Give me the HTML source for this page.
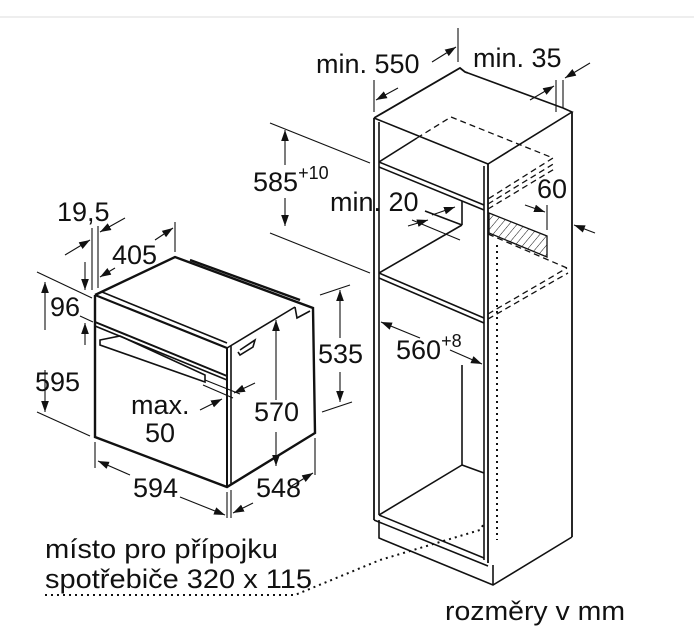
<!DOCTYPE html>
<html><head><meta charset="utf-8"><style>
html,body{margin:0;padding:0;background:#fff;width:694px;height:639px;overflow:hidden}
svg{display:block}
text{font-family:"Liberation Sans",sans-serif;fill:#111;font-size:27px}
</style></head><body>
<svg width="694" height="639" viewBox="0 0 694 639" xmlns="http://www.w3.org/2000/svg">
<defs>
<marker id="a" viewBox="0 0 10 10" refX="10" refY="5" markerWidth="11" markerHeight="11" orient="auto-start-reverse" markerUnits="userSpaceOnUse"><path d="M0,1.5 L10,5 L0,8.5 z" fill="#111"/></marker>
<pattern id="h" width="6" height="6" patternUnits="userSpaceOnUse" patternTransform="rotate(40)"><line x1="0" y1="0" x2="0" y2="6" stroke="#111" stroke-width="1"/></pattern>
</defs>
<line x1="0" y1="17" x2="694" y2="17" stroke="#ddd" stroke-width="1"/>
<g stroke="#111" fill="none" stroke-width="1.6">
<polyline points="374,118 460,68 465,72 468,73" stroke-width="1.8"/>
<polyline points="374,118 488,164 572,112 563,108"/>
<line x1="468" y1="73" x2="563" y2="108"/>
<line x1="374" y1="118" x2="374" y2="520" stroke-width="1.8"/>
<line x1="379" y1="122" x2="379" y2="515"/>
<line x1="488" y1="164" x2="488" y2="563" stroke-width="1.8"/>
<line x1="484" y1="166" x2="484" y2="560"/>
<line x1="572" y1="112" x2="572" y2="537" stroke-width="1.8"/>
<line x1="379" y1="162" x2="484" y2="205"/>
<line x1="379" y1="167" x2="484" y2="210"/>
<line x1="379" y1="162" x2="417" y2="138"/>
<line x1="379" y1="273" x2="484" y2="318"/>
<line x1="379" y1="278" x2="484" y2="323"/>
<line x1="379" y1="273" x2="462" y2="225"/>
<line x1="462" y1="201" x2="462" y2="225"/>
<line x1="425" y1="211" x2="462" y2="225" />
<line x1="462" y1="365" x2="462" y2="465"/>
<line x1="379" y1="515" x2="462" y2="465"/>
<line x1="462" y1="465" x2="484" y2="473"/>
<line x1="379" y1="515" x2="484" y2="558"/>
<polyline points="379,520 379,538 493,585 572,537"/>
<line x1="493" y1="565" x2="493" y2="585"/>
<line x1="374" y1="520" x2="488" y2="566"/>
<g stroke-dasharray="6,4" stroke-width="1.3">
<polyline points="417,138 451,117 553,158 488,199"/>
<polyline points="488,204 555,163"/>
<line x1="488" y1="209" x2="556" y2="168"/>
<line x1="488" y1="234" x2="567" y2="268"/>
<polyline points="488,314 567,268"/>
<line x1="488" y1="319" x2="568" y2="273"/>
</g>
<line x1="497" y1="245" x2="497" y2="540" stroke-dasharray="2,4" stroke-width="2"/>
<polyline points="45,595 295,595 380,560 480,530 485,522" stroke-dasharray="2,4" stroke-width="2"/>
<polygon points="489,213 547,236 547,257 489,233" fill="url(#h)" stroke-width="1.3"/>
<polyline points="95,295 175,257 313,308 315,433 227,487 95,437 95,295" stroke-width="2.4"/>
<line x1="95" y1="295" x2="227" y2="348" stroke-width="2.2"/>
<line x1="102" y1="292" x2="227" y2="343"/>
<line x1="227" y1="348" x2="227" y2="487" stroke-width="2"/>
<line x1="231" y1="346" x2="231" y2="484"/>
<line x1="227" y1="348" x2="295" y2="307"/>
<polyline points="295,307 297,318 310,311"/>
<line x1="95" y1="322" x2="227" y2="376" stroke-width="2"/>
<line x1="95" y1="326" x2="227" y2="380"/>
<polygon points="100,340 120,336 205,375 205,382 100,345" />
<polyline points="240,350 255,340 253,347 240,355 238,352"/>
<line x1="190" y1="260" x2="300" y2="300" stroke-width="2.4"/>
</g>
<g stroke="#111" stroke-width="1.1" fill="none">
<line x1="458" y1="28" x2="458" y2="62"/>
<line x1="374" y1="80" x2="374" y2="112"/>
<line x1="432" y1="62" x2="456" y2="47" marker-end="url(#a)"/>
<line x1="398" y1="88" x2="376" y2="100" marker-end="url(#a)"/>
<line x1="556" y1="80" x2="556" y2="112"/><line x1="563" y1="80" x2="563" y2="108"/>
<line x1="530" y1="100" x2="554" y2="86" marker-end="url(#a)"/>
<line x1="590" y1="63" x2="565" y2="78" marker-end="url(#a)"/>
<line x1="270" y1="123" x2="370" y2="163"/>
<line x1="270" y1="233" x2="370" y2="273"/>
<line x1="285" y1="165" x2="285" y2="130" marker-end="url(#a)"/>
<line x1="285" y1="198" x2="285" y2="226" marker-end="url(#a)"/>
<line x1="432" y1="215" x2="455" y2="207" marker-end="url(#a)"/>
<line x1="412" y1="220" x2="460" y2="240"/>
<line x1="408" y1="226" x2="428" y2="220" marker-end="url(#a)"/>
<line x1="547" y1="205" x2="547" y2="230"/>
<line x1="525" y1="205" x2="545" y2="212" marker-end="url(#a)"/>
<line x1="595" y1="233" x2="574" y2="225" marker-end="url(#a)"/>
<line x1="420" y1="338" x2="381" y2="322" marker-end="url(#a)"/>
<line x1="450" y1="350" x2="482" y2="364" marker-end="url(#a)"/>
<line x1="92" y1="228" x2="92" y2="290"/><line x1="98" y1="226" x2="98" y2="288"/>
<line x1="65" y1="255" x2="90" y2="240" marker-end="url(#a)"/>
<line x1="125" y1="218" x2="100" y2="232" marker-end="url(#a)"/>
<line x1="175" y1="222" x2="175" y2="252"/>
<line x1="155" y1="240" x2="173" y2="228" marker-end="url(#a)"/>
<line x1="115" y1="268" x2="100" y2="277" marker-end="url(#a)"/>
<line x1="37" y1="272" x2="92" y2="298"/>
<line x1="37" y1="412" x2="90" y2="436"/>
<line x1="85" y1="262" x2="85" y2="290" marker-end="url(#a)"/>
<line x1="85" y1="345" x2="85" y2="323" marker-end="url(#a)"/>
<line x1="80" y1="316" x2="93" y2="322"/>
<line x1="45" y1="330" x2="45" y2="282" marker-end="url(#a)"/>
<line x1="45" y1="370" x2="45" y2="412" marker-end="url(#a)"/>
<line x1="95" y1="442" x2="95" y2="468"/>
<line x1="227" y1="492" x2="227" y2="518"/><line x1="231" y1="490" x2="231" y2="518"/>
<line x1="130" y1="475" x2="98" y2="461" marker-end="url(#a)"/>
<line x1="180" y1="497" x2="225" y2="515" marker-end="url(#a)"/>
<line x1="315" y1="438" x2="315" y2="475"/>
<line x1="290" y1="487" x2="313" y2="473" marker-end="url(#a)"/>
<line x1="253" y1="503" x2="233" y2="513" marker-end="url(#a)"/>
<line x1="276" y1="400" x2="276" y2="320" marker-end="url(#a)"/>
<line x1="276" y1="432" x2="276" y2="466" marker-end="url(#a)"/>
<line x1="320" y1="295" x2="350" y2="285"/>
<line x1="322" y1="412" x2="352" y2="402"/>
<line x1="340" y1="338" x2="340" y2="290" marker-end="url(#a)"/>
<line x1="340" y1="372" x2="340" y2="402" marker-end="url(#a)"/>
<line x1="205" y1="380" x2="240" y2="394"/><line x1="203" y1="385" x2="233" y2="398"/>
<line x1="255" y1="383" x2="234" y2="393" marker-end="url(#a)"/>
<line x1="200" y1="410" x2="222" y2="399" marker-end="url(#a)"/>
</g>
<text x="316" y="73">min. 550</text>
<text x="473" y="67">min. 35</text>
<text x="253" y="191">585<tspan font-size="18" dy="-12">+10</tspan></text>
<text x="330" y="211">min. 20</text>
<text x="537" y="198">60</text>
<text x="57" y="221">19,5</text>
<text x="112" y="264">405</text>
<text x="50" y="316">96</text>
<text x="35" y="391">595</text>
<text x="318" y="363">535</text>
<text x="396" y="359">560<tspan font-size="18" dy="-12">+8</tspan></text>
<text x="131" y="414">max.</text>
<text x="145" y="442">50</text>
<text x="254" y="421">570</text>
<text x="133" y="497">594</text>
<text x="256" y="497">548</text>
<text x="45" y="558" font-size="29" textLength="233" lengthAdjust="spacingAndGlyphs">místo pro přípojku</text>
<text x="45" y="588" font-size="29" textLength="267" lengthAdjust="spacingAndGlyphs">spotřebiče 320 x 115</text>
<text x="445" y="620" font-size="29" textLength="180" lengthAdjust="spacingAndGlyphs">rozměry v mm</text>
</svg>
</body></html>
